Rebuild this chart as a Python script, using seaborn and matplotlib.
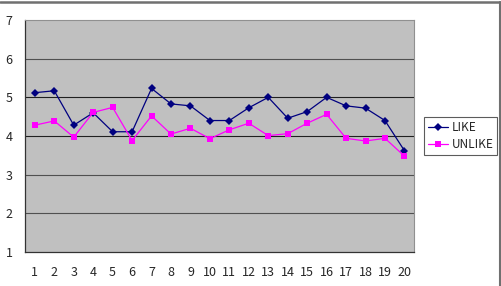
import pandas as pd
import matplotlib
matplotlib.use("Agg")
import matplotlib.pyplot as plt
import seaborn as sns
from matplotlib.ticker import FixedLocator
from matplotlib.lines import Line2D

# datos
items = list(range(1, 21))
like = [5.12, 5.17, 4.28, 4.60, 4.11, 4.11, 5.23, 4.83, 4.78, 4.40,
        4.40, 4.73, 5.00, 4.46, 4.63, 5.00, 4.78, 4.72, 4.40, 3.62]
unlike = [4.28, 4.39, 3.97, 4.61, 4.74, 3.88, 4.52, 4.05, 4.20, 3.93,
          4.16, 4.33, 4.01, 4.06, 4.33, 4.56, 3.94, 3.87, 3.94, 3.48]
y_ticks = [1, 2, 3, 4, 5, 6, 7]

df = pd.DataFrame({
    "item": items * 2,
    "score": like + unlike,
    "serie": ["LIKE"] * len(items) + ["UNLIKE"] * len(items),
})

sns.set_style("white")
plt.rcParams["font.family"] = ["Noto Sans CJK JP", "DejaVu Sans"]

fig = plt.figure(figsize=(5.02, 2.86), dpi=100)
ax = fig.add_axes([0.05, 0.119, 0.775, 0.811])
ax.set_facecolor("#C0C0C0")

sns.lineplot(data=df, x="item", y="score", hue="serie", style="serie",
             palette={"LIKE": "#000080", "UNLIKE": "#FF00FF"},
             markers={"LIKE": "D", "UNLIKE": "s"}, dashes=False,
             markersize=4, linewidth=0.9, markeredgewidth=0, ax=ax)

ax.set_xlim(0.5, 20.5)
ax.set_ylim(1, 7)
ax.set_yticks(y_ticks)
ax.set_xticks(items)
ax.xaxis.set_minor_locator(FixedLocator([i + 0.5 for i in range(0, 20)]))
ax.tick_params(axis="x", which="major", length=0, labelsize=9, pad=10)
ax.tick_params(axis="x", which="minor", length=4, direction="in", width=0.8, color="#333333")
ax.tick_params(axis="y", length=0, labelsize=9, pad=9)
ax.set_xlabel("")
ax.set_ylabel("")

for y in y_ticks[1:-1]:
    ax.axhline(y, color="#202020" if y in (4, 5) else "#505050", lw=0.8, zorder=0.5)

for s in ["top", "right"]:
    ax.spines[s].set_color("#909090")
    ax.spines[s].set_linewidth(0.8)
for s in ["left", "bottom"]:
    ax.spines[s].set_color("#333333")
    ax.spines[s].set_linewidth(0.9)

leg = ax.legend(loc="center left", bbox_to_anchor=(1.02, 0.5), frameon=True,
                fontsize=8.5, handlelength=1.7, handletextpad=0.3,
                borderpad=0.3, labelspacing=0.35, borderaxespad=0.2, fancybox=False)
leg.get_frame().set_edgecolor("#333333")
leg.get_frame().set_linewidth(0.8)

# borde del area del grafico (solo arriba y derecha se ven)
fig.lines.append(Line2D([0, 0.996], [0.992, 0.992], transform=fig.transFigure,
                        color="#707070", lw=1.8))
fig.lines.append(Line2D([0.996, 0.996], [0, 0.992], transform=fig.transFigure,
                        color="#707070", lw=1.5))

plt.savefig("out.png", dpi=100)
